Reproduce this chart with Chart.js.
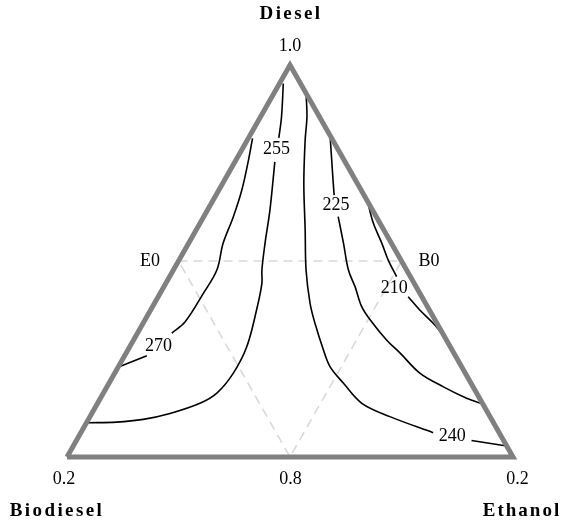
<!DOCTYPE html>
<html>
<head>
<meta charset="utf-8">
<script src="https://cdn.jsdelivr.net/npm/chart.js@4.4.1/dist/chart.umd.min.js"></script>
<style>
  body { margin: 0; background: #fff; }
  canvas { display: block; }
</style>
</head>
<body>
<canvas id="ternary" width="563" height="528"></canvas>
<script>
// plot space: base of the triangle runs x 0..1, apex at (0.5, 1)
const frameX = [0, 0.5, 1, 0]
const frameY = [0, 1, 0, 0]
const innerX = [0.25, 0.75, 0.5, 0.25]
const innerY = [0.5, 0.5, 0, 0.5]

// contour lines (null = break for the label)
const c270x = [0.416, 0.407, 0.392, 0.373, 0.350, 0.336, 0.306, 0.265, 0.235, null, 0.179, 0.117]
const c270y = [0.813, 0.758, 0.681, 0.613, 0.545, 0.477, 0.418, 0.345, 0.316, null, 0.258, 0.230]

const c255x = [0.485, 0.481, 0.475, null, 0.466, 0.455, 0.444, 0.437, 0.437, 0.425, 0.403, 0.373, 0.336, 0.298, 0.231, 0.171, 0.111, 0.046]
const c255y = [0.953, 0.868, 0.814, null, 0.753, 0.630, 0.545, 0.477, 0.443, 0.375, 0.281, 0.214, 0.163, 0.137, 0.111, 0.096, 0.089, 0.0875]

const c240x = [0.536, 0.538, 0.534, 0.531, 0.534, 0.536, 0.545, 0.556, 0.575, 0.590, 0.620, 0.661, 0.724, 0.821, null, 0.907, 0.986]
const c240y = [0.928, 0.868, 0.809, 0.699, 0.579, 0.477, 0.392, 0.341, 0.273, 0.230, 0.188, 0.137, 0.103, 0.062, null, 0.042, 0.028]

const c225x = [0.590, 0.593, 0.597, 0.599, null, 0.608, 0.620, 0.631, 0.646, 0.661, 0.683, 0.717, 0.747, 0.791, 0.844, 0.896, 0.933]
const c225y = [0.817, 0.766, 0.698, 0.668, null, 0.613, 0.545, 0.477, 0.434, 0.383, 0.345, 0.298, 0.265, 0.214, 0.179, 0.150, 0.135]

const c210x = [0.673, 0.687, 0.706, 0.720, 0.739, null, 0.765, 0.791, 0.821, 0.849]
const c210y = [0.656, 0.596, 0.545, 0.503, 0.460, null, 0.409, 0.375, 0.341, 0.303]

const labelText = ['255', '225', '210', '270', '240']
const labelX = [0.470, 0.603, 0.734, 0.205, 0.864]
const labelY = [0.784, 0.643, 0.431, 0.282, 0.053]

const cornerNames = ['Diesel', 'Biodiesel', 'Ethanol']
const axisTicks = ['1.0', '0.2', '0.8', '0.2']
const edgeNames = ['E0', 'B0']

function pts(xs, ys) {
    return xs.map((x, i) => ({ x: x, y: ys[i] }))
}

function contour(xs, ys) {
    return {
        data: pts(xs, ys), borderColor: '#000', borderWidth: 1.6,
        tension: 0.35, spanGaps: false, pointRadius: 0, clip: false
    }
}

const textPlugin = {
    id: 'ternaryText',
    afterDatasetsDraw(chart) {
        const ctx = chart.ctx
        const sx = chart.scales.x, sy = chart.scales.y
        const px = v => sx.getPixelForValue(v)
        const py = v => sy.getPixelForValue(v)
        ctx.save()
        ctx.textAlign = 'center'
        ctx.textBaseline = 'middle'
        ctx.fillStyle = '#000'

        // contour labels
        ctx.font = '18px "Liberation Serif"'
        labelText.forEach((t, i) => ctx.fillText(t, px(labelX[i]), py(labelY[i])))

        // tick values at vertices
        ctx.fillText(axisTicks[0], px(0.5), py(1) - 19)
        ctx.fillText(axisTicks[1], px(0) - 3, py(0) + 22)
        ctx.fillText(axisTicks[2], px(0.5) + 0.5, py(0) + 22)
        ctx.fillText(axisTicks[3], px(1) + 4.5, py(0) + 22)

        // edge midpoint labels
        ctx.fillText(edgeNames[0], px(0.25) - 28.5, py(0.5))
        ctx.fillText(edgeNames[1], px(0.75) + 27.5, py(0.5))

        // component names
        ctx.font = 'bold 19px "Liberation Serif"'
        ctx.letterSpacing = '2.4px'
        ctx.fillText(cornerNames[0], px(0.5) + 1, py(1) - 50.5)
        ctx.fillText(cornerNames[1], px(0) - 10, py(0) + 54.5)
        ctx.letterSpacing = '2px'
        ctx.fillText(cornerNames[2], px(1) + 9, py(0) + 54.5)
        ctx.restore()
    }
}

new Chart(document.getElementById('ternary').getContext('2d'), {
    type: 'scatter',
    data: {
        datasets: [
            { data: pts(frameX, frameY), borderColor: '#808080', borderWidth: 5, borderJoinStyle: 'miter', pointRadius: 0, clip: false },
            contour(c270x, c270y),
            contour(c255x, c255y),
            contour(c240x, c240y),
            contour(c225x, c225y),
            contour(c210x, c210y),
            { data: pts(innerX, innerY), borderColor: '#d9d9d9', borderWidth: 1.6, borderDash: [9, 6], pointRadius: 0, clip: false }
        ].map(d => Object.assign({ showLine: true }, d))
    },
    options: {
        responsive: false,
        animation: false,
        layout: { padding: { left: 67, right: 50, top: 65, bottom: 71 } },
        scales: {
            x: { type: 'linear', min: 0, max: 1, display: false },
            y: { type: 'linear', min: 0, max: 1, display: false }
        },
        plugins: { legend: { display: false }, tooltip: { enabled: false } }
    },
    plugins: [textPlugin]
})
</script>
</body>
</html>
